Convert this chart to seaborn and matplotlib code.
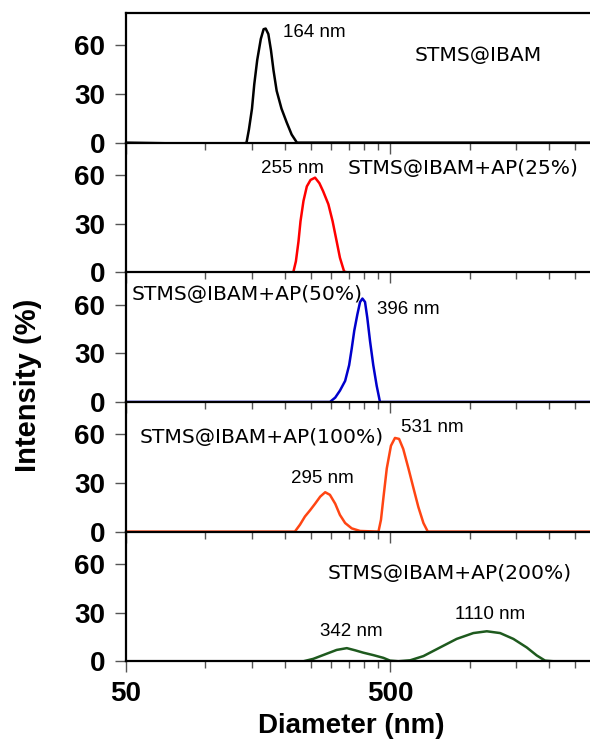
import matplotlib

matplotlib.use("Agg")
import matplotlib.pyplot as plt
import pandas as pd
import seaborn as sns
from matplotlib.ticker import FixedLocator, NullFormatter

# size distributions (diameter nm, intensity %)
d_ibam = [50, 126, 135, 143, 146, 150, 153, 157, 162, 166, 169, 173, 177,
          181, 186, 194, 203, 212, 222, 2860]
i_ibam = [0, -1, -1.5, 0, 8, 21, 36, 51, 64, 70, 70.4, 67, 57,
          44.5, 32, 21, 12.5, 5, 0, 0]

d_ap25 = [50, 215, 220, 225, 229, 235, 242, 250, 260, 270, 279, 292, 303,
          314, 323, 335, 343, 2860]
i_ap25 = [0, 0, 6.8, 19, 31.5, 44, 53, 57, 58.4, 55, 50, 42, 31.5,
          19, 9, 0.5, 0, 0]

d_ap50 = [50, 296, 310, 323, 338, 350, 358, 366, 376, 385, 393, 402, 410,
          420, 432, 445, 458, 2860]
i_ap50 = [0, 0, 2.7, 7, 13, 22.7, 33, 44, 54, 61.7, 63.8, 61.7, 52,
          37.5, 22.7, 10, 0, 0]

d_ap100 = [50, 218, 228, 238, 249, 260, 272, 284, 296, 310, 323, 338, 358,
           385, 452, 462, 472, 486, 504, 522, 541, 561, 587, 613, 640, 669,
           695, 2860]
i_ap100 = [0, 0, 4.3, 9.3, 13.2, 17.2, 21.6, 24.3, 22.7, 17.2, 10.3, 5.3, 2,
           0.4, 0, 7.3, 21, 39, 53, 57.8, 57.2, 51, 39, 27, 15.2, 5.3,
           0, 0]

d_ap200 = [50, 176, 209, 235, 256, 284, 314, 343, 368, 396, 432, 472, 500,
           538, 596, 669, 773, 894, 1034, 1163, 1306, 1466, 1648, 1797, 1933,
           2078, 2404, 2860]
i_ap200 = [0, -0.5, -1, 0, 1.5, 4.3, 7, 8.1, 6.8, 5.3, 3.8, 2.1, 0.4,
           0, 0.6, 3.2, 8.5, 13.8, 17.4, 18.5, 17.4, 13.8, 8.5, 3.6, 0.4,
           0, 0, 0]

samples = ["STMS@IBAM", "STMS@IBAM+AP(25%)", "STMS@IBAM+AP(50%)",
           "STMS@IBAM+AP(100%)", "STMS@IBAM+AP(200%)"]
colors = ["black", "#ff0000", "#0000cc", "#ff4513", "#1e5a1e"]

# peak labels: (text, x, y) in data coordinates
peak_labels = [
    [("164 nm", 197, 68)],
    [("255 nm", 162, 64)],
    [("396 nm", 446, 57)],
    [("531 nm", 550, 64), ("295 nm", 211, 33)],
    [("1110 nm", 880, 29), ("342 nm", 272, 18.5)],
]
sample_pos = [(620, 54), (346, 64), (52.7, 66), (56.5, 58), (291, 54)]

curves = [(d_ibam, i_ibam), (d_ap25, i_ap25), (d_ap50, i_ap50),
          (d_ap100, i_ap100), (d_ap200, i_ap200)]


def main():
    sns.set_style("ticks")
    plt.rcParams["font.family"] = ["Liberation Sans", "DejaVu Sans"]
    plt.rcParams["text.color"] = "black"

    fig, axes = plt.subplots(5, 1, figsize=(5.9, 7.43), dpi=100, sharex=True)
    fig.subplots_adjust(left=0.2136, right=1.0, top=0.9825, bottom=0.11, hspace=0)

    for i, ax in enumerate(axes):
        d, inten = curves[i]
        df = pd.DataFrame({"diameter": d, "intensity": inten})
        sns.lineplot(data=df, x="diameter", y="intensity", ax=ax,
                     color=colors[i], linewidth=1.8, sort=False)
        ax.set_facecolor("none")
        ax.set_xscale("log")
        ax.set_xlim(50, 2860)
        ax.set_ylim(0, 80)
        ax.set_yticks([0, 30, 60])
        ax.set_xlabel("")
        ax.set_ylabel("")
        ax.xaxis.set_major_locator(FixedLocator([50, 500]))
        ax.xaxis.set_minor_locator(FixedLocator(
            [100, 150, 200, 250, 300, 350, 400, 450, 1000, 1500, 2000, 2500]))
        ax.xaxis.set_minor_formatter(NullFormatter())
        ax.tick_params(axis="y", direction="out", length=8, width=1,
                       color="#555555", labelcolor="black", labelsize=20, pad=7)
        ax.tick_params(axis="x", which="major", direction="out", length=8,
                       width=1, color="#555555", labelcolor="black",
                       labelsize=20, pad=6)
        ax.tick_params(axis="x", which="minor", direction="out", length=5,
                       width=1, color="#555555")
        for lbl in ax.get_yticklabels() + ax.get_xticklabels():
            lbl.set_fontweight("bold")
        ax.spines["right"].set_visible(False)
        ax.spines["top"].set_visible(i == 0)
        for s in ["left", "bottom", "top"]:
            ax.spines[s].set_linewidth(1.6)
            ax.spines[s].set_color("black")

        sx, sy = sample_pos[i]
        ax.text(sx, sy, samples[i], fontsize=14.6, va="center", ha="left",
                family="DejaVu Sans")
        for txt, tx, ty in peak_labels[i]:
            ax.text(tx, ty, txt, fontsize=13.5, va="center", ha="left")

    axes[-1].set_xticks([50, 500])
    axes[-1].set_xticklabels(["50", "500"], fontweight="bold")

    fig.text(0.047, 1 - 385 / 743, "Intensity (%)", rotation=90,
             ha="center", va="center", fontsize=21, fontweight="bold")
    fig.text(351 / 590, 1 - 726 / 743, "Diameter (nm)",
             ha="center", va="center", fontsize=20, fontweight="bold")

    fig.savefig("out.png", dpi=100)
    plt.close(fig)


if __name__ == "__main__":
    main()
